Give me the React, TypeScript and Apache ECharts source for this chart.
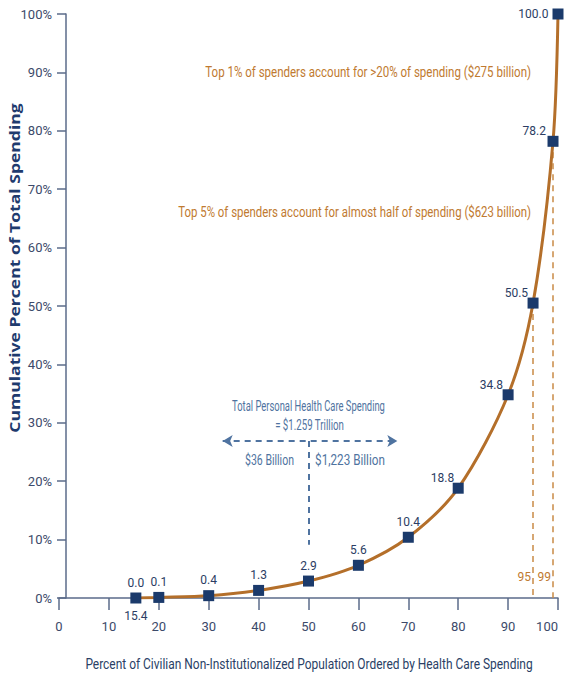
import React, { useEffect, useRef } from 'react';
import * as echarts from 'echarts';

// ---- data ----
const populationPercentile = [15.4, 20, 30, 40, 50, 60, 70, 80, 90, 95, 99, 100];
const cumulativeSpendingPct = [0.0, 0.1, 0.4, 1.3, 2.9, 5.6, 10.4, 18.8, 34.8, 50.5, 78.2, 100.0];
const thresholdPercentiles = [95, 99];
const thresholdLabels = ['95', '99'];
const firstPointXLabel = '15.4';
const splitPercentile = 50;
const splitLevel = 26.9;
const splitLineRange = [32.8, 67.8];
const splitLineBottom = 9.1;

const annotationTop1 = 'Top 1% of spenders account for >20% of spending ($275 billion)';
const annotationTop5 = 'Top 5% of spenders account for almost half of spending ($623 billion)';
const totalLine1 = 'Total Personal Health Care Spending';
const totalLine2 = '= $1.259 Trillion';
const leftAmount = '$36 Billion';
const rightAmount = '$1,223 Billion';
const xTitle = 'Percent of Civilian Non-Institutionalized Population Ordered by Health Care Spending';
const yTitle = 'Cumulative Percent of Total Spending';

const FONT = 'Roboto, "Liberation Sans", sans-serif';
const NAVY = '#1b3a6b';
const AXIS_TEXT = '#3c4a6a';
const AXIS_LINE = '#5b6b8a';
const ORANGE = '#b46f2a';
const ORANGE_TEXT = '#c07a30';
const STEEL = '#4f73a0';

function measure(text: string, font: string): number {
  const ctx = document.createElement('canvas').getContext('2d');
  if (!ctx) return text.length * 6;
  ctx.font = font;
  return ctx.measureText(text).width;
}

function fitText(text: string, font: string, x: number, y: number, width: number, fill: string, align: string, extra: any = {}) {
  const w = measure(text, font);
  return {
    type: 'text',
    x,
    y,
    scaleX: width / w,
    ...extra,
    style: { text, fill, font, align, verticalAlign: 'middle' },
  };
}

export default function App() {
  const ref = useRef<HTMLDivElement>(null);

  useEffect(() => {
    if (!ref.current) return;
    const chart = echarts.init(ref.current, undefined, { renderer: 'svg' });

    const leftOffsets: Record<number, number[]> = {
      7: [1.5, -10],
      8: [0.5, -10],
      9: [0.5, -10],
      10: [-1.5, -10],
      11: [0, 0],
    };

    const points = populationPercentile.map((x, i) => {
      const v = cumulativeSpendingPct[i];
      let label: any = { position: 'top', distance: 4 };
      if (leftOffsets[i]) label = { position: 'left', distance: i === 11 ? 4 : 0, offset: leftOffsets[i] };
      return { value: [x, v], label };
    });

    const f14 = `14px ${FONT}`;

    const option: any = {
      animation: false,
      grid: { left: 59, right: 8, top: 14, bottom: 78, containLabel: false, outerBoundsMode: 'none' },
      xAxis: {
        type: 'value',
        min: 0,
        max: 100,
        interval: 10,
        axisLine: { show: true, lineStyle: { color: AXIS_LINE, width: 1.5 } },
        axisTick: { show: true, length: 12, lineStyle: { color: AXIS_LINE, width: 1.5 } },
        axisLabel: { color: AXIS_TEXT, fontFamily: FONT, fontSize: 13, margin: 22, alignMaxLabel: 'right' },
        splitLine: { show: false },
      },
      yAxis: {
        type: 'value',
        min: 0,
        max: 100,
        interval: 10,
        offset: -7,
        axisLine: { show: true, lineStyle: { color: AXIS_LINE, width: 1.5 } },
        axisTick: { show: true, length: 9, lineStyle: { color: AXIS_LINE, width: 1.5 } },
        axisLabel: { color: AXIS_TEXT, fontFamily: FONT, fontSize: 13, margin: 14, formatter: '{value}%' },
        splitLine: { show: false },
      },
      series: [
        {
          type: 'line',
          data: points,
          smooth: 0.3,
          symbol: 'rect',
          symbolSize: 11,
          itemStyle: { color: NAVY },
          lineStyle: { color: ORANGE, width: 3 },
          label: {
            show: true,
            color: '#2b3d63',
            fontFamily: FONT,
            fontSize: 12,
            formatter: (p: any) => p.value[1].toFixed(1),
          },
          z: 5,
          markPoint: {
            symbol: 'circle',
            symbolSize: 0,
            silent: true,
            data: [
              {
                coord: [populationPercentile[0], 0],
                label: { show: true, position: 'bottom', distance: 12, formatter: firstPointXLabel, color: '#2b3d63', fontFamily: FONT, fontSize: 12 },
              },
              ...thresholdPercentiles.map((t, i) => ({
                coord: [t, 3.6],
                label: { show: true, position: 'left', distance: 2, formatter: thresholdLabels[i], color: ORANGE_TEXT, fontFamily: FONT, fontSize: 12 },
              })),
            ],
          },
          markLine: {
            silent: true,
            symbol: 'none',
            label: { show: false },
            lineStyle: { color: '#c98a45', type: [6, 5], width: 1.5 },
            data: thresholdPercentiles.map((t) => [
              { coord: [t, cumulativeSpendingPct[populationPercentile.indexOf(t)]] },
              { coord: [t, 0] },
            ]),
          },
        },
        {
          type: 'line',
          data: [],
          markLine: {
            silent: true,
            label: { show: false },
            lineStyle: { color: STEEL, type: [6, 5], width: 2 },
            data: [
              [
                { coord: [splitLineRange[0], splitLevel], symbol: 'arrow', symbolSize: [9, 10] },
                { coord: [splitLineRange[1], splitLevel], symbol: 'arrow', symbolSize: [9, 10] },
              ],
              [
                { coord: [splitPercentile, splitLevel], symbol: 'none' },
                { coord: [splitPercentile, splitLineBottom], symbol: 'none' },
              ],
            ],
          },
        },
      ],
      graphic: [
        fitText(yTitle, `bold 14px "Open Sans", "Noto Sans", sans-serif`, 15, 268, 330, '#1f3b6e', 'center', { rotation: Math.PI / 2 }),
        fitText(annotationTop1, `15px ${FONT}`, 531, 72, 326, ORANGE_TEXT, 'right'),
        fitText(annotationTop5, `15px ${FONT}`, 531, 212, 353, ORANGE_TEXT, 'right'),
        fitText(totalLine1, f14, 308.5, 406, 153, STEEL, 'center'),
        fitText(totalLine2, f14, 309.5, 425, 69, STEEL, 'center'),
        fitText(leftAmount, f14, 269.5, 460, 49, STEEL, 'center'),
        fitText(rightAmount, f14, 350, 460, 70, STEEL, 'center'),
        fitText(xTitle, `15px ${FONT}`, 309, 663, 448, '#2a3f66', 'center'),
      ],
    };

    chart.setOption(option);
    return () => chart.dispose();
  }, []);

  return <div ref={ref} style={{ position: 'absolute', left: 0, top: 0, width: 566, height: 676, background: '#fff' }} />;
}
